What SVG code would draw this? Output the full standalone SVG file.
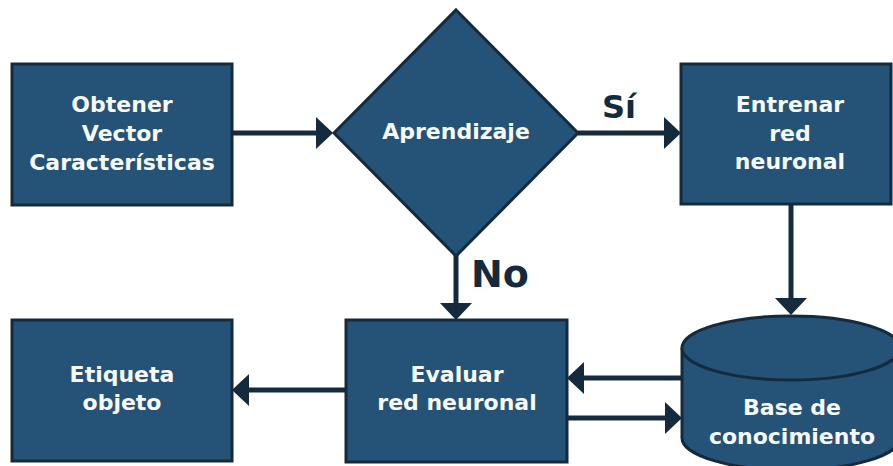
<svg xmlns="http://www.w3.org/2000/svg" width="893" height="466" viewBox="0 0 893 466">
<style>
.box{fill:#255277;stroke:#142a3d;stroke-width:3}
.lbl{font-family:"DejaVu Sans",sans-serif;font-weight:bold;font-size:22px;fill:#f7f9fb;text-anchor:middle}
.edge{stroke:#142a3d;stroke-width:5;fill:none}
.big{font-family:"DejaVu Sans",sans-serif;font-weight:bold;fill:#142a3d}
</style>
<defs>
<marker id="ah" viewBox="0 0 17 32" refX="9" refY="16" markerWidth="17" markerHeight="32" markerUnits="userSpaceOnUse" orient="auto">
<path d="M0,0 L17,16 L0,32 Z" fill="#142a3d"/>
</marker>
</defs>
<rect width="893" height="466" fill="#ffffff"/>
<g id="connectors">
<path class="edge" d="M232,133 H325" marker-end="url(#ah)"/>
<path class="edge" d="M578,133 H673" marker-end="url(#ah)"/>
<path class="edge" d="M456,255 V312" marker-end="url(#ah)"/>
<path class="edge" d="M791,204 V307" marker-end="url(#ah)"/>
<path class="edge" d="M682,378 H575" marker-end="url(#ah)"/>
<path class="edge" d="M567,418 H674" marker-end="url(#ah)"/>
<path class="edge" d="M346,390 H240" marker-end="url(#ah)"/>
<text class="big" x="602" y="118" font-size="32">Sí</text>
<text class="big" x="471" y="287" font-size="38">No</text>
</g>
<g id="obtener">
<rect class="box" x="12" y="64" width="220" height="141"/>
<text class="lbl" x="122" y="112">Obtener</text>
<text class="lbl" x="122" y="141">Vector</text>
<text class="lbl" x="122" y="170">Características</text>
</g>
<g id="aprendizaje">
<polygon class="box" points="456,10 578,133 456,256 334,133"/>
<text class="lbl" x="456" y="139">Aprendizaje</text>
</g>
<g id="entrenar">
<rect class="box" x="681" y="64" width="210" height="140"/>
<text class="lbl" x="790" y="112">Entrenar</text>
<text class="lbl" x="790" y="141">red</text>
<text class="lbl" x="790" y="169">neuronal</text>
</g>
<g id="etiqueta">
<rect class="box" x="12" y="320" width="220" height="141"/>
<text class="lbl" x="122" y="382">Etiqueta</text>
<text class="lbl" x="122" y="410">objeto</text>
</g>
<g id="evaluar">
<rect class="box" x="346" y="320" width="221" height="142"/>
<text class="lbl" x="457" y="382">Evaluar</text>
<text class="lbl" x="457" y="410">red neuronal</text>
</g>
<g id="base">
<path class="box" d="M682,348 A109,32 0 0 1 900,348 V438 A109,32 0 0 1 682,438 Z"/>
<path class="box" fill="none" d="M682,348 A109,32 0 0 0 900,348"/>
<text class="lbl" x="792" y="415">Base de</text>
<text class="lbl" x="792" y="444">conocimiento</text>
</g>
</svg>
